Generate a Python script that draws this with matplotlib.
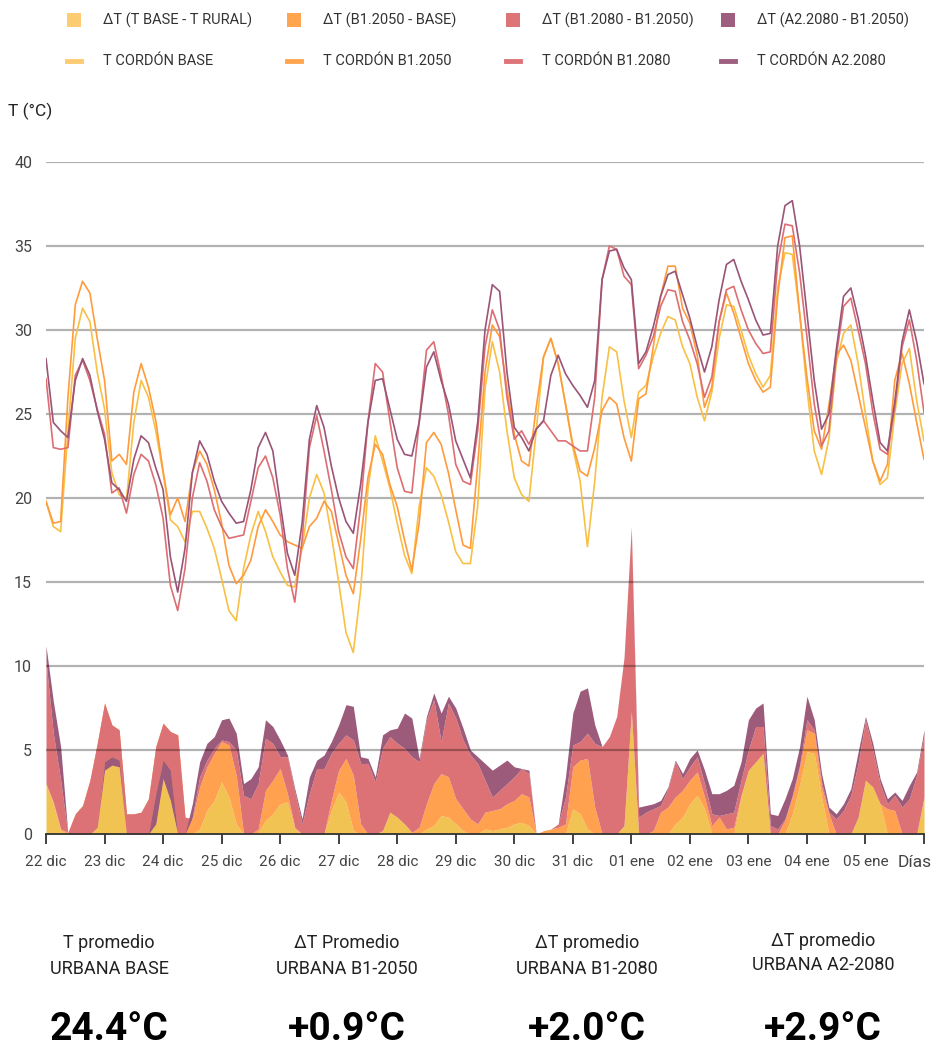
import numpy as np
import matplotlib
matplotlib.use('Agg')
import matplotlib.pyplot as plt
import matplotlib.transforms as mtransforms
from matplotlib.patches import Rectangle
from matplotlib.lines import Line2D

plt.rcParams['font.family'] = ['Roboto', 'DejaVu Sans']

# Hours since 22 dic 00:00, one reading every 3 hours (15 days)
hours = np.arange(0, 361, 3)

day_labels = ['22 dic', '23 dic', '24 dic', '25 dic', '26 dic', '27 dic', '28 dic',
              '29 dic', '30 dic', '31 dic', '01 ene', '02 ene', '03 ene', '04 ene',
              '05 ene', 'Días']

# T cordón lines (ºC), 8 values per day
t_base = [19.8, 18.3, 18.0, 24.0, 29.5, 31.3, 30.5, 27.5,
          25.3, 21.5, 20.2, 19.9, 24.5, 27.0, 26.0, 24.0,
          21.5, 18.7, 18.3, 17.4, 19.2, 19.2, 18.2, 17.0,
          15.2, 13.3, 12.7, 15.8, 17.8, 19.2, 18.0, 16.5,
          15.6, 14.8, 14.7, 17.0, 20.0, 21.4, 20.3, 17.8,
          15.0, 12.0, 10.8, 14.5, 20.5, 23.7, 22.2, 20.6,
          18.5, 16.6, 15.5, 19.5, 21.8, 21.3, 20.2, 18.6,
          16.8, 16.1, 16.1, 19.5, 26.5, 29.3, 27.5, 24.0,
          21.2, 20.2, 19.8, 24.0, 28.4, 29.5, 28.0, 25.6,
          23.0, 21.0, 17.1, 21.0, 26.0, 29.0, 28.7, 25.8,
          23.6, 26.3, 26.7, 28.4, 29.8, 30.8, 30.6, 29.0,
          28.0, 26.0, 24.6, 26.3, 29.5, 31.5, 31.4, 30.0,
          28.5, 27.4, 26.6, 27.3, 32.5, 34.6, 34.5, 31.0,
          26.5, 22.8, 21.4, 23.5, 28.0, 29.8, 30.3, 28.0,
          25.0, 22.2, 20.8, 21.2, 25.0, 28.0, 28.9, 25.8,
          23.4]

t_b1_2050 = [19.8, 18.5, 18.6, 26.0, 31.5, 32.9, 32.2, 29.5,
             27.0, 22.2, 22.6, 22.0, 26.3, 28.0, 26.6, 24.6,
             21.6, 19.0, 20.0, 18.6, 21.5, 22.8, 22.0, 20.5,
             18.5, 16.0, 14.9, 15.4, 16.3, 18.3, 19.3, 18.6,
             17.8, 17.4, 17.2, 17.0, 18.3, 18.8, 19.8, 19.2,
             17.3, 15.4, 14.3, 17.5, 21.2, 23.2, 22.6, 20.8,
             19.5, 17.5, 15.7, 18.5, 23.3, 23.9, 23.2, 21.5,
             19.3, 17.2, 17.0, 22.0, 27.5, 30.3, 29.6, 26.5,
             23.8, 22.2, 21.9, 25.4, 28.4, 29.5, 28.0, 25.6,
             23.2, 21.6, 21.3, 23.0, 25.2, 26.0, 25.6, 23.6,
             22.2, 25.9, 26.2, 29.0, 32.0, 33.8, 33.8, 31.3,
             30.4, 28.5, 25.4, 26.6, 30.5, 32.2, 31.0, 29.5,
             28.0, 27.0, 26.3, 26.6, 32.0, 35.5, 35.6, 31.0,
             27.2, 24.0, 22.9, 25.5, 28.5, 29.1, 28.2, 26.2,
             24.2, 22.2, 21.0, 22.0, 27.0, 28.6, 26.8, 24.5,
             22.3]

t_b1_2080 = [27.1, 23.0, 22.9, 23.0, 27.3, 28.2, 27.0, 25.3,
             23.8, 20.3, 20.6, 19.1, 21.4, 22.6, 22.2, 20.8,
             18.8, 14.8, 13.3, 15.8, 20.0, 22.1, 21.0, 19.3,
             18.3, 17.6, 17.7, 17.8, 19.8, 21.8, 22.5, 21.2,
             19.0, 15.8, 13.8, 17.5, 23.0, 24.9, 22.8, 20.5,
             18.0, 16.5, 15.8, 19.5, 24.5, 28.0, 27.5, 24.6,
             21.8, 20.4, 20.3, 24.5, 28.8, 29.3, 27.3, 25.0,
             22.0, 21.0, 20.8, 24.0, 29.0, 31.2, 30.0, 26.0,
             23.5, 24.0, 23.2, 24.1, 24.6, 24.0, 23.4, 23.4,
             23.1, 22.8, 22.8, 26.0, 33.0, 35.0, 34.8, 33.2,
             32.7, 27.7, 28.5, 29.6, 31.4, 32.4, 32.3, 30.5,
             29.4, 28.0, 26.0, 27.2, 30.5, 32.4, 32.6, 31.2,
             30.0, 29.2, 28.6, 28.7, 34.0, 36.3, 36.2, 33.4,
             29.6, 25.6, 23.1, 24.0, 28.4, 31.4, 31.9, 30.0,
             28.0, 25.1, 22.9, 22.6, 25.4, 29.0, 30.6, 28.2,
             25.1]

t_a2_2080 = [28.3, 24.5, 24.0, 23.6, 27.0, 28.3, 27.3, 25.2,
             23.5, 20.9, 20.5, 19.8, 22.3, 23.7, 23.3, 21.8,
             20.5, 16.5, 14.4, 17.0, 21.5, 23.4, 22.6, 21.0,
             19.8, 19.1, 18.5, 18.6, 20.5, 23.0, 23.9, 22.8,
             19.7, 16.7, 15.4, 18.5, 23.5, 25.5, 24.2, 21.9,
             20.0, 18.6, 17.9, 20.8, 24.5, 27.0, 27.1, 25.3,
             23.5, 22.6, 22.5, 24.5, 27.8, 28.7, 27.0, 25.6,
             23.4, 22.3, 21.2, 24.5, 30.0, 32.7, 32.3, 27.5,
             24.2, 23.6, 22.8, 24.1, 24.6, 27.3, 28.5, 27.4,
             26.7, 26.1, 25.4, 27.0, 33.0, 34.7, 34.8, 33.7,
             33.0, 28.0, 28.7, 30.2, 32.0, 33.3, 33.5, 32.1,
             30.7, 29.0, 27.5, 29.0, 31.8, 33.9, 34.2, 32.9,
             31.8, 30.6, 29.7, 29.8, 35.0, 37.4, 37.7, 35.0,
             31.0, 27.0, 24.1, 25.0, 28.8, 32.0, 32.5, 30.7,
             28.5, 25.8, 23.3, 22.8, 25.7, 29.3, 31.2, 29.3,
             26.8]

# Urban increments (ºC), stacked in this order
dt_base_rural = [2.9, 1.8, 0.2, 0, 0, 0, 0, 0.4,
                 3.8, 4.1, 4.0, 0, 0, 0, 0, 0.6,
                 3.3, 2.0, 0, 0, 0, 0.3, 1.4, 2.0,
                 3.1, 2.2, 0.6, 0, 0, 0.1, 0.8, 1.2,
                 1.8, 1.9, 0.3, 0, 0, 0, 0, 1.4,
                 2.5, 1.9, 0.2, 0, 0, 0, 0.2, 1.3,
                 1.0, 0.6, 0.1, 0, 0.3, 0.5, 1.1, 1.0,
                 0.6, 0.2, 0, 0, 0.3, 0.2, 0.3, 0.4,
                 0.6, 0.7, 0.5, 0, 0, 0, 0, 0,
                 1.5, 1.2, 0.3, 0, 0, 0, 0, 0.5,
                 7.3, 0, 0, 0, 0, 0, 0.6, 1.0,
                 1.8, 2.3, 1.5, 0, 0, 0, 0, 2.2,
                 3.8, 4.3, 4.8, 0, 0, 0, 1.2, 2.9,
                 4.9, 4.8, 2.2, 0, 0, 0, 0, 1.0,
                 3.2, 2.8, 1.8, 0, 0, 0, 0, 0,
                 2.2]

dt_b1_2050 = [0.1, 0.1, 0.1, 0.1, 1.2, 1.7, 3.2, 5.0,
              4.0, 2.4, 2.2, 1.2, 1.2, 1.3, 2.1, 4.6,
              3.3, 4.1, 5.9, 1.0, 0.9, 2.5, 2.6, 2.8,
              2.4, 3.1, 2.9, 0, 0, 0.2, 1.8, 2.0,
              2.1, 0.5, 0.1, 0, 0, 0, 0, 0.6,
              1.3, 2.6, 3.3, 0.6, 0, 0, 0, 0,
              0, 0, 0, 0.4, 1.5, 2.5, 2.5, 2.4,
              1.5, 1.3, 0.9, 0.6, 1.0, 1.2, 1.2, 1.4,
              1.4, 1.7, 1.7, 0, 0.2, 0.3, 0.4, 0.6,
              2.5, 3.2, 4.2, 1.6, 0, 0, 0, 0,
              0, 0, 0, 0.2, 1.3, 1.6, 1.6, 1.6,
              1.4, 1.4, 0.7, 0.5, 1.0, 0.3, 0.4, 0.1,
              0, 0, 0, 0, 0, 0.8, 1.0, 1.1,
              1.3, 1.2, 0.6, 1.2, 0, 0, 0, 0,
              0, 0, 0, 1.5, 1.4, 0, 0, 0,
              0]

dt_b1_2080 = [7.3, 4.1, 2.9, -0.1, -1.2, -1.7, -3.2, -5.0,
              -3.5, -1.9, -1.8, -1.2, -1.2, -1.3, -2.1, -2.8,
              -2.2, -2.3, -5.9, -1.0, 0.1, 0.6, 0.4, 0.3,
              0.1, 0.2, 1.5, 2.3, 2.1, 2.7, 3.1, 2.2,
              0.7, 2.2, 2.1, 0.6, 2.4, 3.9, 3.9, 2.8,
              1.6, 1.4, 2.1, 3.6, 4.2, 3.1, 4.9, 4.5,
              4.4, 4.5, 4.5, 3.9, 5.0, 5.0, 1.9, 4.4,
              4.8, 4.1, 3.8, 3.6, 1.9, 0.8, 1.1, 1.2,
              1.4, 1.5, 1.4, 0, 0, 0, 0.2, 1.6,
              1.3, 1.1, 1.5, 3.8, 5.2, 5.8, 7.0, 10.0,
              11.0, 1.0, 1.3, 1.3, 0.4, 1.1, 2.1, 0.7,
              0.8, 0.9, 0.8, 0.7, 0.1, 0.9, 0.9, 0.9,
              1.2, 2.1, 1.6, 0.5, 0.3, 0.1, 0.1, 0.1,
              0.6, 0.2, 0.3, 0.1, 0.9, 1.4, 2.3, 3.2,
              3.6, 2.2, 1.2, 0.3, 0.9, 1.6, 2.1, 3.5,
              3.7]

dt_a2_2080 = [0.9, 1.9, 2.0, 0, 0, 0, 0, 0,
              -0.5, -0.5, -0.4, 0, 0, 0, 0, -1.8,
              -1.1, -1.8, 0, 0, 0.8, 0.9, 1.0, 0.7,
              1.2, 1.4, 1.0, 0.7, 1.2, 1.0, 1.1, 1.0,
              1.0, 0.1, 0.2, 0.3, 1.0, 0.5, 0.8, 0.7,
              1.1, 1.8, 2.0, 0.4, 0.3, 0.3, 0.8, 0.4,
              0.9, 2.1, 2.3, 0.2, 0.2, 0.4, 1.7, 0.4,
              0.6, 0.7, 0.3, 0.4, 1.0, 1.6, 1.5, 1.4,
              0.6, 0, 0.2, 0, 0, 0, 0, 1.2,
              1.9, 3.0, 2.7, 1.1, 0, 0, 0, 0,
              0, 0.6, 0.4, 0.3, 0.3, 0.1, 0.1, 0.3,
              0.5, 0.4, 0.8, 1.2, 1.3, 1.4, 1.6, 1.1,
              1.8, 1.1, 1.4, 0.7, 0.8, 1.2, 1.0, 1.1,
              1.4, 0.6, 0.5, 0.3, 0.3, 0.4, 0.4, 0.7,
              0.2, 0.4, 0.3, 0.3, 0.2, 0.4, 0.8, 0.2,
              0.3]

legend_areas = ['ΔT (T BASE - T RURAL)', 'ΔT (B1.2050 - BASE)',
                'ΔT (B1.2080 - B1.2050)', 'ΔT (A2.2080 - B1.2050)']
legend_lines = ['T CORDÓN BASE', 'T CORDÓN B1.2050', 'T CORDÓN B1.2080', 'T CORDÓN A2.2080']

stat_titles = ['T promedio\nURBANA BASE', 'ΔT Promedio\nURBANA B1-2050',
               'ΔT promedio\nURBANA B1-2080', 'ΔT promedio\nURBANA A2-2080']
stat_values = ['24.4°C', '+0.9°C', '+2.0°C', '+2.9°C']

area_colors = ['#F0C352', '#FFA14E', '#DC7275', '#9C5B7B']
patch_colors = ['#FDCC72', '#FFA54F', '#DD7478', '#9E5E7F']
line_colors = ['#F8C045', '#FF9B3D', '#DC6E73', '#9A5476']

W, H = 935, 1052
fig = plt.figure(figsize=(W / 100, H / 100), dpi=100)
ax = fig.add_axes([46 / W, 1 - 834 / H, 878 / W, 672 / H])

x = hours / 24.0

# stacked areas (signed increments, later layers drawn on top)
levels = np.cumsum(np.array([dt_base_rural, dt_b1_2050, dt_b1_2080, dt_a2_2080]), axis=0)
lower = np.zeros_like(x)
for lvl, col in zip(levels, area_colors):
    ax.fill_between(x, lower, lvl, color=col, lw=0, zorder=1)
    lower = lvl

for series, col in zip([t_base, t_b1_2050, t_b1_2080, t_a2_2080], line_colors):
    ax.plot(x, series, color=col, lw=1.2, zorder=3)

ax.set_xlim(0, 15)
ax.set_ylim(0, 40)
for s in ['top', 'right', 'left']:
    ax.spines[s].set_visible(False)
ax.spines['bottom'].set_color('#333333')
ax.spines['bottom'].set_linewidth(1.3)
ax.spines['bottom'].set_zorder(4)

ax.set_yticks(np.arange(0, 41, 5))
ax.set_yticklabels([str(v) for v in range(0, 41, 5)])
ax.tick_params(axis='y', length=0, pad=10, labelsize=11.5, labelcolor='#444444')
for v in range(5, 41, 5):
    ax.axhline(v, color='black', alpha=0.3, lw=1.6, zorder=2)

ax.set_xticks(np.arange(0, 16))
ax.set_xticklabels(day_labels)
ax.tick_params(axis='x', length=7, width=1.3, color='#333333', pad=8,
               labelsize=11, labelcolor='#444444')
last = ax.get_xticklabels()[-1]
last.set_fontsize(12.5)
last.set_transform(last.get_transform() +
                   mtransforms.ScaledTranslation(-9 / 100, 0, fig.dpi_scale_trans))

fig.text(8 / W, 1 - 111 / H, 'T (°C)', fontsize=12.5, ha='left', va='center', color='#222222')

# legend, drawn by hand
col_x = [67, 287, 506, 721]
for i in range(4):
    fig.add_artist(Rectangle((col_x[i] / W, 1 - 27 / H), 14 / W, 14 / H,
                             transform=fig.transFigure, color=patch_colors[i], lw=0))
    fig.text((col_x[i] + 36) / W, 1 - 20 / H, legend_areas[i], fontsize=10.5,
             ha='left', va='center', color='#333333')
    fig.add_artist(Line2D([col_x[i] / W, (col_x[i] + 14) / W], [1 - 61 / H, 1 - 61 / H],
                          transform=fig.transFigure, color=patch_colors[i], lw=3.5))
    fig.text((col_x[i] + 36) / W, 1 - 61 / H, legend_lines[i], fontsize=10.5,
             ha='left', va='center', color='#333333')

# averages below the chart
stat_x = [109, 347, 587, 823]
stat_y = [956, 956, 956, 953]
for i in range(4):
    fig.text(stat_x[i] / W, 1 - stat_y[i] / H, stat_titles[i], fontsize=13, ha='center',
             va='center', color='#222222', linespacing=1.5)
    fig.text(stat_x[i] / W, 1 - 1030 / H, stat_values[i], fontsize=28, ha='center',
             va='center', color='black', fontweight='bold')

fig.savefig('out.png', dpi=100)
